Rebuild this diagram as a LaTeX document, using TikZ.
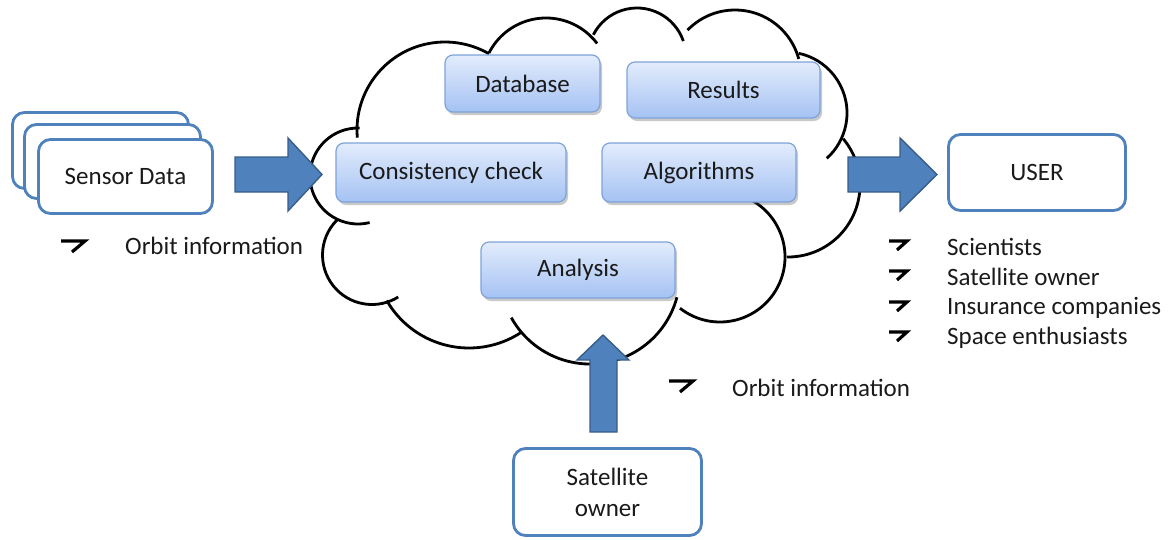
\documentclass[tikz,border=0pt]{standalone}
\usepackage{fontspec}
\setmainfont{Carlito}
\usetikzlibrary{shadows}
\definecolor{obl}{HTML}{4F81BD}
\definecolor{arrfill}{HTML}{4F81BD}
\definecolor{arrdraw}{HTML}{385D8A}
\definecolor{btop}{HTML}{E2ECFC}
\definecolor{bbot}{HTML}{A5C2F3}
\definecolor{bdraw}{HTML}{7EA3DA}
\definecolor{txt}{HTML}{1A1A1A}
\tikzset{
  outbox/.style={draw=obl, line width=2.8pt, fill=white, rounded corners=12pt, inner sep=0pt,
    text=txt, font=\fontsize{25}{31}\selectfont, align=center},
  cbox/.style={draw=bdraw, line width=1.2pt, rounded corners=8pt, top color=btop, bottom color=bbot,
    drop shadow={shadow xshift=2pt, shadow yshift=-3pt, opacity=0.3, fill=black!70},
    inner sep=0pt, text=txt, font=\fontsize{25}{30}\selectfont},
  cloudline/.style={line width=2.8pt, black},
  blockarrow/.style={fill=arrfill, draw=arrdraw, line width=1.4pt, line join=miter},
  bul/.style={line width=3.2pt, black, line cap=butt},
  lbl/.style={inner sep=0pt, anchor=west, text=txt, font=\fontsize{25}{30}\selectfont},
}
\newcommand\lobe[5]{\draw[cloudline] (#1,#2) ++({-#4}:#3pt) arc[start angle={-#4}, end angle={-#5}, radius=#3pt];}
\newcommand\bigbul[2]{\draw[bul] (#1,#2) -- ++(24,0) -- ++(-13,11);}
\newcommand\smallbul[2]{\draw[bul] (#1,#2) -- ++(18,0) -- ++(-10,9);}
\begin{document}
\begin{tikzpicture}[x=1pt, y=-1pt]
\useasboundingbox (0,0) rectangle (1171,539);
% cloud
\lobe{445}{130}{88}{175}{300}
\lobe{546}{82}{64}{207}{323}
\lobe{637}{57}{49}{207}{341}
\lobe{735}{76}{66}{224}{345}
\lobe{786}{113}{61}{282}{408}
\lobe{788}{185}{72}{320}{451}
\lobe{720}{257}{65}{290}{488}
\lobe{590}{274}{90}{15}{151}
\lobe{469}{253}{95}{150}{57}
\lobe{372}{255}{49.5}{225}{58}
\lobe{358}{176}{48}{272}{76}
% boxes inside cloud
\node[cbox, minimum width=155pt, minimum height=57pt] (db) at (522.5,83.5) {Database};
\node[cbox, minimum width=193pt, minimum height=56pt] (res) at (723.5,90) {Results};
\node[cbox, minimum width=230pt, minimum height=59pt] (cc) at (451,172.5) {Consistency check};
\node[cbox, minimum width=194pt, minimum height=59pt] (alg) at (699,172.5) {Algorithms};
\node[cbox, minimum width=194pt, minimum height=56pt] (ana) at (578,270) {Analysis};
% sensor stack
\node[outbox, minimum width=176pt, minimum height=76pt] (s3) at (100.5,150.5) {};
\node[outbox, minimum width=176pt, minimum height=74pt] (s2) at (112.5,161.5) {};
\node[outbox, minimum width=174pt, minimum height=74pt] (sensor) at (125.5,176.5) {Sensor Data};
% user and satellite owner
\node[outbox, minimum width=177pt, minimum height=76pt] (user) at (1037,172.5) {USER};
\node[outbox, minimum width=188pt, minimum height=87pt] (sat) at (607.5,492) {Satellite\\owner};
% block arrows
\draw[blockarrow] (235,157) -- (288,157) -- (288,138) -- (322,174.5) -- (288,211) -- (288,192) -- (235,192) -- cycle;
\draw[blockarrow] (848,157) -- (900,157) -- (900,138) -- (937,174.5) -- (900,211) -- (900,192) -- (848,192) -- cycle;
\draw[blockarrow] (590,432) -- (590,360) -- (577,360) -- (603,335) -- (629,360) -- (617,360) -- (617,432) -- cycle;
% labels
\bigbul{61}{241}
\node[lbl] (orb1) at (125,246) {Orbit information};
\bigbul{669}{381}
\node[lbl] (orb2) at (732,388) {Orbit information};
\smallbul{889}{241}
\node[lbl] (u1) at (947,247) {Scientists};
\smallbul{889}{271}
\node[lbl] (u2) at (947,277) {Satellite owner};
\smallbul{889}{302}
\node[lbl] (u3) at (947,308) {Insurance companies};
\smallbul{889}{332}
\node[lbl] (u4) at (947,338) {Space enthusiasts};
\end{tikzpicture}
\end{document}
